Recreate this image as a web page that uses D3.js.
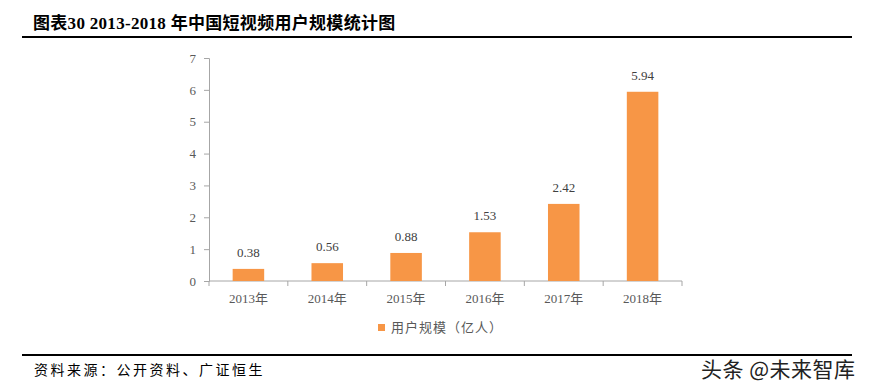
<!DOCTYPE html>
<html>
<head>
<meta charset="utf-8">
<script src="https://cdn.jsdelivr.net/npm/d3@7"></script>
<style>
  body { margin: 0; background: #fff; }
  svg { display: block; }
  .serif { font-family: "Liberation Serif", "Noto Sans CJK SC", serif; }
</style>
</head>
<body>
<svg width="871" height="388"></svg>
<script>
const years = ["2013年", "2014年", "2015年", "2016年", "2017年", "2018年"]
const users = [0.38, 0.56, 0.88, 1.53, 2.42, 5.94]
const yTicks = [0, 1, 2, 3, 4, 5, 6, 7]
const seriesName = "用户规模（亿人）"

const svg = d3.select("svg")
const axisColor = "#a6a6a6"
const textColor = "#595959"

// header
svg.append("text")
  .attr("x", 33)
  .attr("y", 29)
  .attr("font-family", "'Liberation Serif', 'Noto Sans CJK SC', serif")
  .attr("font-weight", "bold")
  .attr("font-size", 17)
  .attr("letter-spacing", 0.3)
  .attr("fill", "#000")
  .text("图表30 2013-2018 年中国短视频用户规模统计图")

svg.append("rect")
  .attr("x", 22).attr("y", 36).attr("width", 830).attr("height", 2)
  .attr("fill", "#000")

// scales
const x = d3.scaleBand().domain(years).range([209, 682])
const y = d3.scaleLinear().domain([0, 7]).range([281, 58])
const barW = x.step() * 0.4

// y axis
const yAxis = svg.append("g")
  .attr("transform", "translate(209,0)")
  .call(d3.axisLeft(y).tickValues(yTicks).tickSize(5).tickPadding(8).tickFormat(d3.format("d")))
yAxis.select(".domain").attr("stroke", axisColor)
yAxis.selectAll("line").attr("stroke", axisColor)
yAxis.selectAll("text")
  .attr("class", "serif")
  .attr("font-size", 13)
  .attr("fill", textColor)

// x axis: ticks at the category boundaries
const xAxis = svg.append("g").attr("transform", "translate(0,281)")
xAxis.append("line")
  .attr("x1", 209).attr("x2", 682)
  .attr("stroke", axisColor)
xAxis.selectAll("line.tick")
  .data(years.concat(["end"]))
  .enter()
  .append("line")
  .attr("class", "tick")
  .attr("x1", (d, i) => 209 + i * x.step())
  .attr("x2", (d, i) => 209 + i * x.step())
  .attr("y1", 0).attr("y2", 5)
  .attr("stroke", axisColor)
xAxis.selectAll("text")
  .data(years)
  .enter()
  .append("text")
  .attr("class", "serif")
  .attr("x", d => x(d) + x.bandwidth() / 2)
  .attr("y", 22)
  .attr("text-anchor", "middle")
  .attr("font-size", 13)
  .attr("fill", textColor)
  .text(d => d)

// bars
svg.selectAll("rect.bar")
  .data(users)
  .enter()
  .append("rect")
  .attr("class", "bar")
  .attr("x", (d, i) => x(years[i]) + (x.bandwidth() - barW) / 2)
  .attr("y", d => y(d))
  .attr("width", barW)
  .attr("height", d => y(0) - y(d))
  .attr("fill", "#f79646")

// value labels
svg.selectAll("text.val")
  .data(users)
  .enter()
  .append("text")
  .attr("class", "val serif")
  .attr("x", (d, i) => x(years[i]) + x.bandwidth() / 2)
  .attr("y", d => y(d) - 12)
  .attr("text-anchor", "middle")
  .attr("font-size", 13)
  .attr("fill", "#404040")
  .text(d => d.toFixed(2))

// legend
svg.append("rect")
  .attr("x", 378).attr("y", 324).attr("width", 7).attr("height", 7)
  .attr("fill", "#f79646")
svg.append("text")
  .attr("x", 391)
  .attr("y", 332)
  .attr("font-family", "'Noto Sans CJK SC', sans-serif")
  .attr("font-size", 13)
  .attr("letter-spacing", 1)
  .attr("fill", textColor)
  .text(seriesName)

// footer
svg.append("rect")
  .attr("x", 22).attr("y", 354).attr("width", 830).attr("height", 2)
  .attr("fill", "#000")
svg.append("text")
  .attr("x", 34)
  .attr("y", 375)
  .attr("font-family", "'Noto Sans CJK SC', sans-serif")
  .attr("font-size", 14)
  .attr("letter-spacing", 2.5)
  .attr("fill", "#000")
  .text("资料来源：公开资料、广证恒生")

svg.append("text")
  .attr("x", 701)
  .attr("y", 377)
  .attr("font-family", "'Noto Sans CJK SC', sans-serif")
  .attr("font-size", 21)
  .attr("letter-spacing", 0.5)
  .attr("fill", "#222")
  .attr("stroke", "#fff")
  .attr("stroke-width", 3)
  .attr("paint-order", "stroke")
  .text("头条 @未来智库")
</script>
</body>
</html>
